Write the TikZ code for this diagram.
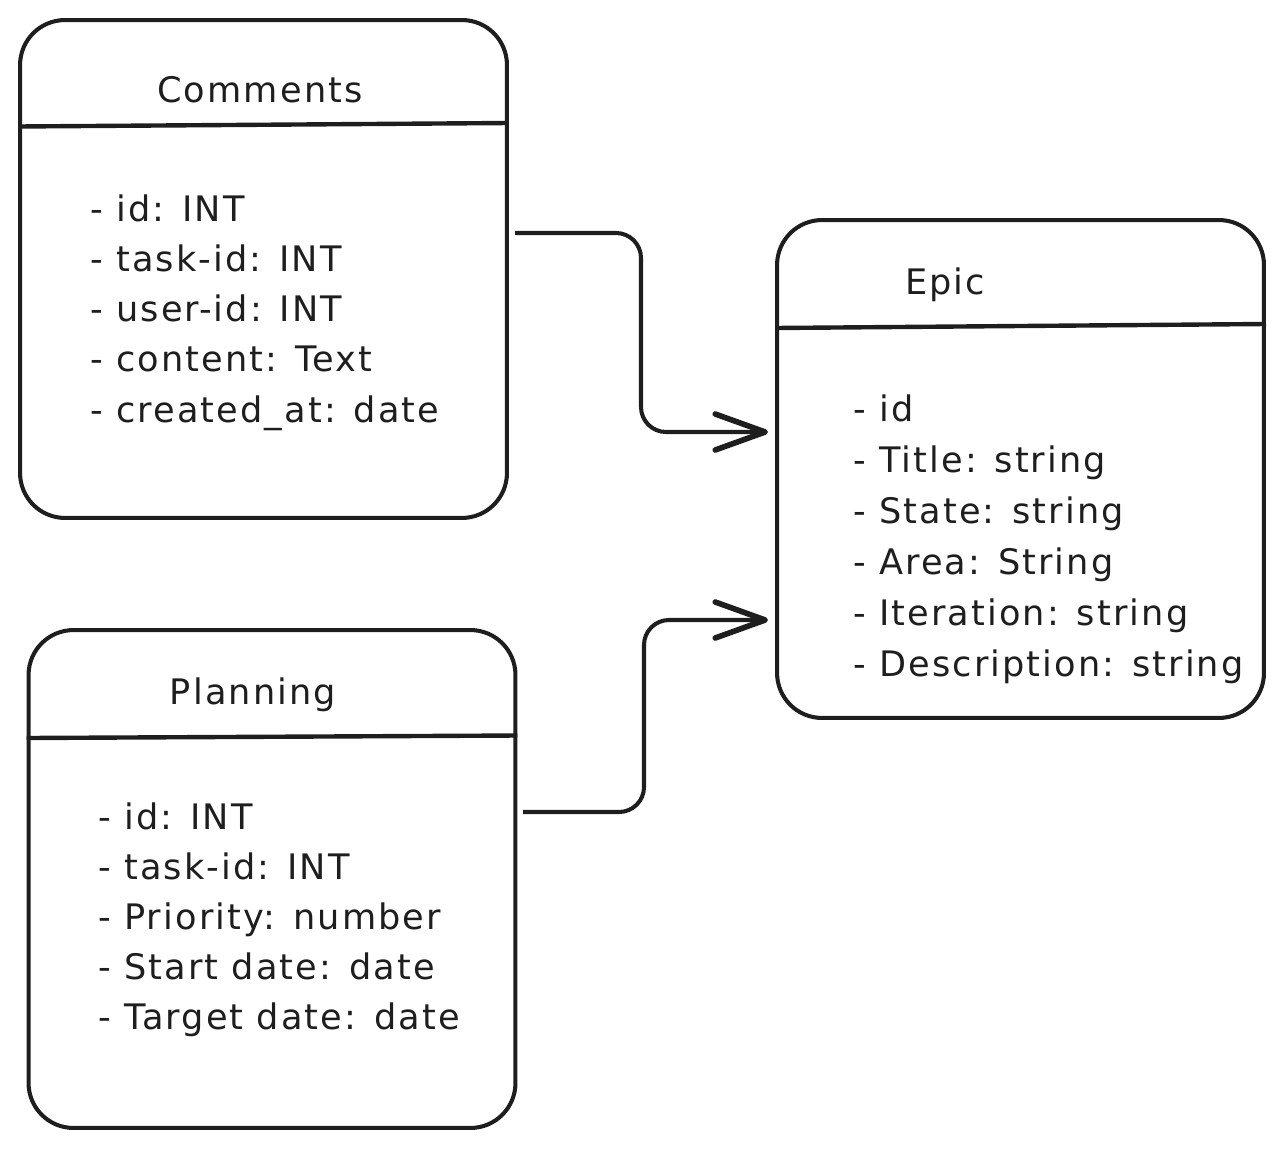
\documentclass[tikz,border=0pt]{standalone}
\usepackage{fontspec}
\setmainfont{DejaVu Sans}[LetterSpace=6]
\usetikzlibrary{arrows.meta}
\definecolor{ink}{HTML}{1E1E1E}

\begin{document}
\begin{tikzpicture}[x=0.02cm, y=-0.02cm,
		every node/.style = {text=ink, inner sep=0pt},
		entity/.style = {draw=ink, line width=2.3pt, rounded corners=0.9cm,
			minimum width=9.74cm, minimum height=9.96cm},
		header/.style = {draw=ink, line width=2.5pt},
		title/.style = {font=\fontsize{20}{24}\selectfont},
		field/.style = {anchor=base west, font=\fontsize{20}{24}\selectfont},
		link/.style = {draw=ink, line width=2.3pt, rounded corners=0.5cm,
			-{Straight Barb[length=1cm, width=0.72cm, line width=3.2pt, line cap=round, line join=round]}}]
	\useasboundingbox (0,0) rectangle (1283,1148);

	% tables
	\node[entity] (comments) at (263.5,269) {};
	\node[entity] (epic) at (1020.5,469) {};
	\node[entity] (planning) at (272,879) {};

	\draw[header] ([yshift=-2.17cm]comments.north west) -- ([yshift=-2.1cm]comments.north east);
	\draw[header] ([yshift=-2.2cm]epic.north west) -- ([yshift=-2.12cm]epic.north east);
	\draw[header] ([yshift=-2.2cm]planning.north west) -- ([yshift=-2.15cm]planning.north east);

	\node[title] (comments-title) at (260,90) {Comments};
	\node[title] (epic-title) at (945,285) {Epic};
	\node[title] (planning-title) at (253,695) {Planning};

	% fields
	\foreach \txt [count=\i] in {- id: INT, - task-id: INT, - user-id: INT,
			- content: Text, - created\_at: date}
		\node[field] (comments-\i) at (90,172+50*\i) {\txt};
	\foreach \txt [count=\i] in {- id, - Title: string, - State: string,
			- Area: String, - Iteration: string, - Description: string}
		\node[field] (epic-\i) at (853,370+51*\i) {\txt};
	\foreach \txt [count=\i] in {- id: INT, - task-id: INT, - Priority: number,
			- Start date: date, - Target date: date}
		\node[field] (planning-\i) at (98,779+50*\i) {\txt};

	% relations
	\coordinate (comments-out) at (515,233);
	\coordinate (planning-out) at (523,812);
	\coordinate (epic-in1) at (768,432);
	\coordinate (epic-in2) at (768,620);
	\coordinate (bend1) at (641,0);
	\coordinate (bend2) at (644,0);

	\draw[link] (comments-out) -- (comments-out -| bend1) -- (epic-in1 -| bend1) -- (epic-in1);
	\draw[link] (planning-out) -- (planning-out -| bend2) -- (epic-in2 -| bend2) -- (epic-in2);
\end{tikzpicture}
\end{document}
